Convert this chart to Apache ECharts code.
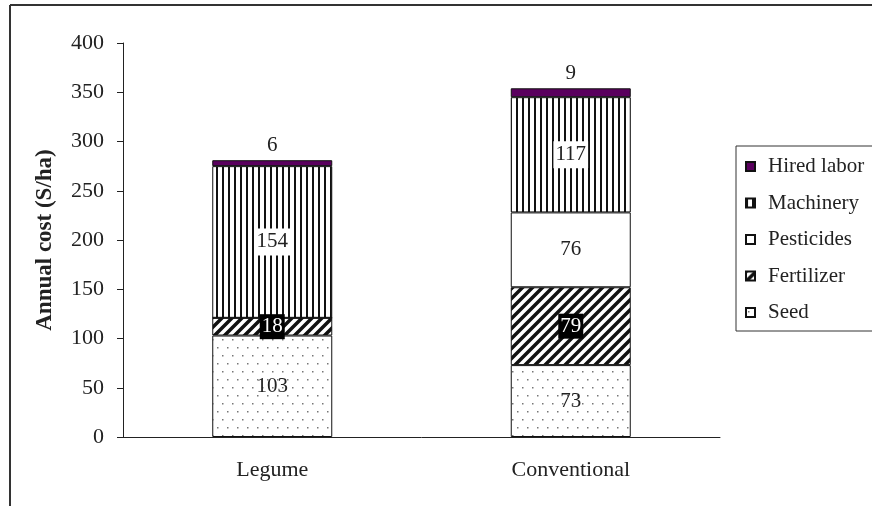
<!DOCTYPE html>
<html>
<head>
<meta charset="utf-8">
<script src="https://cdn.jsdelivr.net/npm/echarts@6/dist/echarts.min.js"></script>
<style>
  html, body { margin: 0; padding: 0; background: #fff; }
  #chart { width: 872px; height: 506px; }
</style>
</head>
<body>
<div id="chart"></div>
<script>
// data ($/ha)
var categories = ['Legume', 'Conventional'];
var seed = [103, 73];
var fertilizer = [18, 79];
var pesticides = [0, 76];
var machinery = [154, 117];
var hiredLabor = [6, 9];
var legendOrder = ['Hired labor', 'Machinery', 'Pesticides', 'Fertilizer', 'Seed'];

var FONT = '"Liberation Serif", "Times New Roman", serif';

// little canvas tiles used as fill patterns
function tile(w, h, draw) {
  var c = document.createElement('canvas');
  c.width = w; c.height = h;
  var ctx = c.getContext('2d');
  ctx.fillStyle = '#fff';
  ctx.fillRect(0, 0, w, h);
  draw(ctx);
  return { image: c, repeat: 'repeat' };
}
var stripes = tile(6, 6, function(ctx) {
  ctx.fillStyle = '#111';
  ctx.fillRect(0, 0, 2, 6);
});
var hatch = tile(10, 10, function(ctx) {
  ctx.strokeStyle = '#111';
  ctx.lineWidth = 3.5;
  ctx.beginPath();
  ctx.moveTo(-5, 15); ctx.lineTo(15, -5);
  ctx.moveTo(-5, 5); ctx.lineTo(5, -5);
  ctx.moveTo(5, 15); ctx.lineTo(15, 5);
  ctx.stroke();
});
var dots = tile(10, 16, function(ctx) {
  ctx.fillStyle = '#777';
  ctx.fillRect(2, 3, 1.5, 1.5);
  ctx.fillRect(7, 11, 1.5, 1.5);
});

var border = { borderColor: '#111', borderWidth: 1 };
function hideZero(p) { return p.value ? p.value : ''; }

var chart = echarts.init(document.getElementById('chart'));
chart.setOption({
  backgroundColor: '#fff',
  animation: false,
  textStyle: { fontFamily: FONT, color: '#222' },
  grid: { left: 123, right: 152, top: 43, bottom: 69 },
  legend: {
    data: legendOrder,
    orient: 'vertical',
    left: 736, top: 146,
    padding: [10, 30, 8, 9],
    itemWidth: 9, itemHeight: 9, itemGap: 15.5,
    borderColor: '#333', borderWidth: 1,
    icon: 'rect',
    textStyle: { fontFamily: FONT, fontSize: 21, lineHeight: 21, color: '#222', padding: [0, 0, 0, 8] }
  },
  xAxis: {
    type: 'category',
    data: categories,
    axisLine: { lineStyle: { color: '#222', width: 1 } },
    axisTick: { length: 6, lineStyle: { color: '#222' } },
    axisLabel: { fontFamily: FONT, fontSize: 22, color: '#222', margin: 22 }
  },
  yAxis: {
    type: 'value',
    min: 0, max: 400, interval: 50,
    name: 'Annual cost (S/ha)',
    nameLocation: 'middle',
    nameRotate: 90,
    nameGap: 66,
    nameTextStyle: { fontFamily: FONT, fontSize: 23, fontWeight: 'bold', color: '#222' },
    axisLine: { show: true, lineStyle: { color: '#222', width: 1 } },
    axisTick: { show: true, length: 6, lineStyle: { color: '#222' } },
    splitLine: { show: false },
    axisLabel: { fontFamily: FONT, fontSize: 22, color: '#222', margin: 19 }
  },
  series: [
    {
      name: 'Seed', type: 'bar', stack: 'cost', barWidth: 120, data: seed,
      itemStyle: Object.assign({ color: dots }, border),
      label: { show: true, position: 'inside', formatter: hideZero,
        fontFamily: FONT, fontSize: 21, color: '#222' }
    },
    {
      name: 'Fertilizer', type: 'bar', stack: 'cost', barWidth: 120, data: fertilizer,
      itemStyle: Object.assign({ color: hatch }, border),
      label: { show: true, position: 'inside', formatter: hideZero,
        fontFamily: FONT, fontSize: 21, color: '#fff', backgroundColor: '#000', padding: [2, 2] }
    },
    {
      name: 'Pesticides', type: 'bar', stack: 'cost', barWidth: 120, data: pesticides,
      itemStyle: Object.assign({ color: '#fff' }, border),
      label: { show: true, position: 'inside', formatter: hideZero,
        fontFamily: FONT, fontSize: 21, color: '#222' }
    },
    {
      name: 'Machinery', type: 'bar', stack: 'cost', barWidth: 120, data: machinery,
      itemStyle: Object.assign({ color: stripes }, border),
      label: { show: true, position: 'inside', formatter: hideZero,
        fontFamily: FONT, fontSize: 21, color: '#222', backgroundColor: '#fff', padding: [3, 2] }
    },
    {
      name: 'Hired labor', type: 'bar', stack: 'cost', barWidth: 120, data: hiredLabor,
      itemStyle: Object.assign({ color: '#5a005e' }, border),
      label: { show: true, position: 'top', distance: 4,
        fontFamily: FONT, fontSize: 21, color: '#222' }
    }
  ],
  graphic: [
    { type: 'line', shape: { x1: 10, y1: 5, x2: 872, y2: 5 }, style: { stroke: '#333', lineWidth: 2 } },
    { type: 'line', shape: { x1: 10, y1: 5, x2: 10, y2: 506 }, style: { stroke: '#333', lineWidth: 2 } }
  ]
});
</script>
</body>
</html>
